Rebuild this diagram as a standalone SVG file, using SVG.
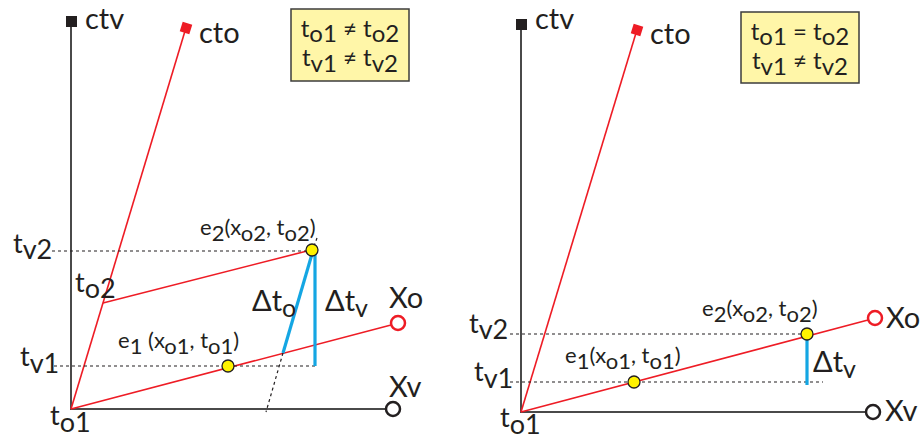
<svg xmlns="http://www.w3.org/2000/svg" width="921" height="439" viewBox="0 0 921 439">
<style>
text{font-family:Lato,"Liberation Sans",sans-serif;fill:#231f20;font-size:24px}
.big{font-size:29px}
.lab{font-size:27px}
.ev-t{font-size:22px}
.ax{stroke:#4a4a4a;stroke-width:2;fill:none}
.red{stroke:#ee1c25;stroke-width:1.6;fill:none}
.dot{stroke:#231f20;stroke-width:1.2;stroke-dasharray:3 3;fill:none}
.blue{stroke:#14a6e3;stroke-width:3.2;fill:none}
.ev{fill:#fff200;stroke:#231f20;stroke-width:1.3}
.box{fill:#fff6a8;stroke:#3c3c3c;stroke-width:1.5}
</style>
<g id="connectors">
<line class="ax" x1="71" y1="27" x2="71" y2="410"/>
<line class="ax" x1="70" y1="409" x2="386" y2="409"/>
<line class="red" x1="71" y1="409" x2="185" y2="31"/>
<line class="red" x1="71" y1="409" x2="391" y2="325"/>
<line class="red" x1="103" y1="303" x2="311" y2="250"/>
<line class="dot" x1="52" y1="251" x2="306" y2="251"/>
<line class="dot" x1="54" y1="366" x2="315" y2="366"/>
<line class="dot" x1="283" y1="353" x2="266" y2="412"/>
<line class="dot" x1="312" y1="252" x2="317" y2="238"/>
<line class="blue" x1="312" y1="254" x2="283" y2="353"/>
<line class="blue" x1="315" y1="254" x2="315" y2="366"/>
<line class="ax" x1="521" y1="30" x2="521" y2="413"/>
<line class="ax" x1="520" y1="412" x2="866" y2="412"/>
<line class="red" x1="521" y1="412" x2="636" y2="33"/>
<line class="red" x1="521" y1="412" x2="868" y2="320"/>
<line class="dot" x1="510" y1="334" x2="802" y2="334"/>
<line class="dot" x1="510" y1="382" x2="823" y2="382"/>
<line class="blue" x1="807" y1="338" x2="807" y2="385"/>
</g>
<g id="left-ctv"><rect x="66" y="16" width="11" height="11" fill="#231f20"/><text class="big" x="85" y="29" font-size="28">ctv</text></g>
<g id="left-cto"><rect x="181" y="23" width="10" height="10" fill="#ee1c25" transform="rotate(17 186 28)"/><text class="big" x="199" y="43">cto</text></g>
<g id="left-xo"><circle cx="398" cy="323" r="7" fill="#fff" stroke="#ee1c25" stroke-width="2.5"/><text class="big" x="389" y="308">Xo</text></g>
<g id="left-xv"><circle cx="393" cy="409" r="7" fill="#fff" stroke="#231f20" stroke-width="2.5"/><text class="big" x="389" y="397">Xv</text></g>
<g id="left-e1"><circle class="ev" cx="228" cy="366" r="6"/><text class="ev-t" x="118" y="348">e<tspan dy="6">1</tspan><tspan dy="-6"> (x</tspan><tspan dy="6">o1</tspan><tspan dy="-6">, t</tspan><tspan dy="6">o1</tspan><tspan dy="-6">)</tspan></text></g>
<g id="left-e2"><circle class="ev" cx="312" cy="250" r="6"/><text class="ev-t" x="200" y="235">e<tspan dy="6">2</tspan><tspan dy="-6">(x</tspan><tspan dy="6">o2</tspan><tspan dy="-6">, t</tspan><tspan dy="6">o2</tspan><tspan dy="-6">)</tspan></text></g>
<g id="left-labels">
<text class="lab" x="13" y="253">t<tspan dy="6">v2</tspan></text>
<text class="lab" x="20" y="366">t<tspan dy="7">v1</tspan></text>
<text class="lab" x="50" y="425">t<tspan dy="7">o1</tspan></text>
<text class="lab" x="75" y="292">t<tspan dy="6">o2</tspan></text>
<text class="big" x="252" y="311">Δt<tspan dy="6" font-size="25">o</tspan></text>
<text class="big" x="325" y="311">Δt<tspan dy="6" font-size="25">v</tspan></text>
</g>
<g id="left-box"><rect class="box" x="291" y="9" width="118" height="72"/>
<text x="350" y="37" text-anchor="middle">t<tspan dy="5">o1</tspan><tspan dy="-5"> ≠ t</tspan><tspan dy="5">o2</tspan></text>
<text x="350" y="66" text-anchor="middle">t<tspan dy="6">v1</tspan><tspan dy="-6"> ≠ t</tspan><tspan dy="6">v2</tspan></text></g>
<g id="right-ctv"><rect x="516" y="19" width="11" height="11" fill="#231f20"/><text class="big" x="535" y="29" font-size="28">ctv</text></g>
<g id="right-cto"><rect x="632" y="25" width="10" height="10" fill="#ee1c25" transform="rotate(17 637 30)"/><text class="big" x="650" y="44">cto</text></g>
<g id="right-xo"><circle cx="875" cy="318" r="7" fill="#fff" stroke="#ee1c25" stroke-width="2.5"/><text class="big" x="886" y="328">Xo</text></g>
<g id="right-xv"><circle cx="873" cy="412" r="7" fill="#fff" stroke="#231f20" stroke-width="2.5"/><text class="big" x="885" y="421">Xv</text></g>
<g id="right-e1"><circle class="ev" cx="634" cy="382" r="6"/><text class="ev-t" x="565" y="363">e<tspan dy="6">1</tspan><tspan dy="-6">(x</tspan><tspan dy="6">o1</tspan><tspan dy="-6">, t</tspan><tspan dy="6">o1</tspan><tspan dy="-6">)</tspan></text></g>
<g id="right-e2"><circle class="ev" cx="807" cy="334" r="6"/><text class="ev-t" x="702" y="316">e<tspan dy="6">2</tspan><tspan dy="-6">(x</tspan><tspan dy="6">o2</tspan><tspan dy="-6">, t</tspan><tspan dy="6">o2</tspan><tspan dy="-6">)</tspan></text></g>
<g id="right-labels">
<text class="lab" x="469" y="333">t<tspan dy="6">v2</tspan></text>
<text class="lab" x="474" y="381">t<tspan dy="7">v1</tspan></text>
<text class="lab" x="500" y="427">t<tspan dy="7">o1</tspan></text>
<text class="big" x="813" y="372">Δt<tspan dy="6" font-size="25">v</tspan></text>
</g>
<g id="right-box"><rect class="box" x="741" y="12" width="118" height="71"/>
<text x="800" y="40" text-anchor="middle">t<tspan dy="5">o1</tspan><tspan dy="-5"> = t</tspan><tspan dy="5">o2</tspan></text>
<text x="800" y="69" text-anchor="middle">t<tspan dy="6">v1</tspan><tspan dy="-6"> ≠ t</tspan><tspan dy="6">v2</tspan></text></g>
</svg>
